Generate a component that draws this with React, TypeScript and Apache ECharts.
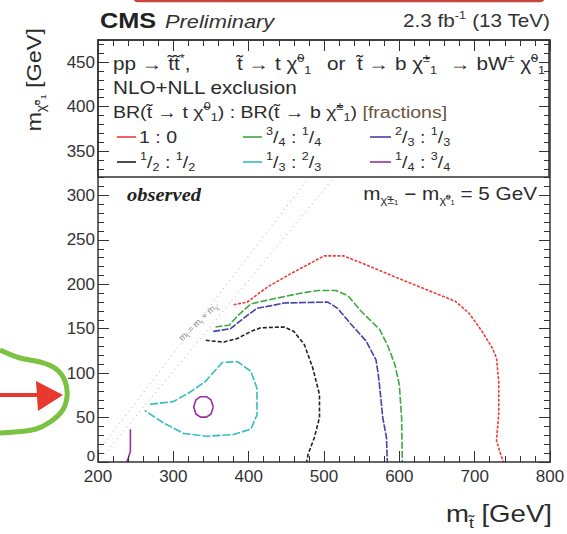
import React, { useEffect, useRef } from "react";
import * as echarts from "echarts";

// Exclusion contours, points are [m_stop, m_LSP] in GeV
const contour1to0: number[][] = [
  [380, 177], [398, 180], [425, 197], [456, 212], [478, 222], [500, 232], [526, 232],
  [550, 224], [598, 207], [642, 192], [674, 181], [692, 168], [709, 148], [723, 129],
  [729, 117], [732, 90], [732, 55], [729, 24], [734, 10], [738, 0],
];
const contour3to1: number[][] = [
  [356, 152], [374, 154], [386, 165], [403, 178], [429, 183], [469, 190], [492, 193],
  [516, 193], [532, 187], [549, 170], [574, 149], [585, 130], [594, 110], [600, 87],
  [603, 50], [604, 0],
];
const contour2to1: number[][] = [
  [353, 147], [376, 150], [392, 161], [411, 173], [430, 176], [447, 179], [505, 180],
  [518, 173], [536, 155], [556, 136], [569, 115], [572, 99], [574, 84], [578, 50],
  [583, 27], [584, 0],
];
const contour1to1: number[][] = [
  [343, 137], [354, 136], [367, 135], [385, 139], [403, 147], [416, 151], [447, 152],
  [460, 147], [474, 132], [485, 106], [494, 76], [494, 50], [487, 27], [479, 9], [477, 0],
];
const contour1to2: number[][] = [
  [269, 65], [300, 68], [323, 79], [343, 91], [365, 112], [385, 113], [403, 102],
  [411, 83], [411, 53], [403, 37], [380, 31], [345, 29], [314, 32], [287, 44], [262, 58],
];
const contour1to3Ring: number[][] = [
  [353, 62], [350, 70], [344, 73.5], [336, 73.5], [330, 70], [327, 62], [330, 54],
  [336, 50.5], [344, 50.5], [350, 54], [353, 62],
];
const contour1to3Edge: number[][] = [[243, 37], [243, 12], [240, 4], [238, 0]];

// kinematic diagonals
const diagTop: number[][] = [[200, 12], [480, 320]];
const diagLow: number[][] = [[200, 0], [513, 320]];

// axes
const xMin = 200;
const xMax = 800;
const xStep = 100;
const yMin = 0;
const yMax = 475;
const yStep = 50;

const COLORS = {
  red: "#ee3b3b",
  green: "#3fa83f",
  blue: "#4343a8",
  black: "#222222",
  cyan: "#35bdbd",
  magenta: "#9b2f9f",
};

const SANS = "'Liberation Sans', Arial, Helvetica, sans-serif";
const SERIF = "'Liberation Serif', 'Times New Roman', serif";
const TXT = "#2b2b2b";

function richFor(size: number, fill: string) {
  const s = Math.round(size * 0.62);
  return {
    sb: { fontSize: s, verticalAlign: "bottom", lineHeight: Math.round(size * 0.72), fontFamily: SANS, fill },
    sp: { fontSize: s, verticalAlign: "top", lineHeight: Math.round(size * 0.72), fontFamily: SANS, fill },
    br: { fontSize: size, fontFamily: SANS, fill: "#6b5540" },
  };
}

function txt(x: number, y: number, text: string, o: any = {}) {
  const size = o.size ?? 18;
  const fill = o.fill ?? TXT;
  return {
    type: "text",
    x,
    y,
    scaleX: o.sx ?? 1.15,
    scaleY: o.sy ?? 1,
    rotation: o.rot ?? 0,
    z: o.z ?? 12,
    silent: true,
    style: {
      text,
      fill,
      fontSize: size,
      fontFamily: o.family ?? SANS,
      fontWeight: o.weight ?? "normal",
      fontStyle: o.fstyle ?? "normal",
      textAlign: o.align ?? "left",
      textVerticalAlign: "middle",
      lineHeight: Math.round(size * 1.3),
      rich: richFor(size, fill),
    },
  };
}

function legLine(x1: number, x2: number, y: number, color: string) {
  return {
    type: "line",
    z: 12,
    silent: true,
    shape: { x1, y1: y, x2, y2: y },
    style: { stroke: color, lineWidth: 1.6 },
  };
}

const T = "t\u0303";
const CHI = "\u03c7\u0303";

export default function App() {
  const ref = useRef<HTMLDivElement>(null);

  useEffect(() => {
    if (!ref.current) return;
    const chart = echarts.init(ref.current, null, { renderer: "svg" });

    const axisBase = {
      type: "value",
      z: 20,
      axisLine: { show: true, onZero: false, lineStyle: { color: "#333", width: 1.5 } },
      axisTick: { show: true, inside: true, length: 11, lineStyle: { color: "#333", width: 1 } },
      minorTick: { show: true, splitNumber: 5, length: 6, lineStyle: { color: "#333", width: 1 } },
      splitLine: { show: false },
      minorSplitLine: { show: false },
    };

    const line = (name: string, data: number[][], color: string, dash: any, width = 1.6) => ({
      type: "line",
      name,
      data,
      showSymbol: false,
      symbol: "none",
      silent: true,
      z: 3,
      lineStyle: { color, width, type: dash },
    });

    const graphic: any[] = [
      // legend box
      {
        type: "rect",
        z: 10,
        silent: true,
        shape: { x: 98, y: 40, width: 451, height: 137 },
        style: { fill: "#ffffff", stroke: "#333", lineWidth: 1.5 },
      },
      // header
      txt(100, 21, "CMS", { size: 22, weight: "bold", fill: "#222" }),
      txt(165, 21, "Preliminary", { size: 19, fstyle: "italic", fill: "#333" }),
      txt(550, 21, "2.3 fb{sp|-1} (13 TeV)", { size: 18, align: "right", fill: "#333" }),
      // legend header lines
      txt(113, 64, `pp \u2192 ${T}${T}{sp|*},`, { size: 18 }),
      txt(237, 64, `${T} \u2192 t ${CHI}{sp|0}{sb|1}`, { size: 18 }),
      txt(327, 64, "or", { size: 18 }),
      txt(357, 64, `${T} \u2192 b ${CHI}{sp|\u00b1}{sb|1}`, { size: 18 }),
      txt(450, 64, `\u2192 bW{sp|\u00b1} ${CHI}{sp|0}{sb|1}`, { size: 18 }),
      txt(113, 88, "NLO+NLL exclusion", { size: 18 }),
      txt(
        113,
        112,
        `BR(${T} \u2192 t ${CHI}{sp|0}{sb|1}) : BR(${T} \u2192 b ${CHI}{sp|\u00b1}{sb|1}) {br|[fractions]}`,
        { size: 17 }
      ),
      // legend entries
      legLine(117, 136, 137, COLORS.red),
      txt(139, 137, "1 : 0", { size: 17 }),
      legLine(243, 262, 137, COLORS.green),
      txt(266, 137, "{sp|3}/{sb|4} : {sp|1}/{sb|4}", { size: 17 }),
      legLine(370, 391, 137, COLORS.blue),
      txt(395, 137, "{sp|2}/{sb|3} : {sp|1}/{sb|3}", { size: 17 }),
      legLine(117, 136, 162, COLORS.black),
      txt(140, 162, "{sp|1}/{sb|2} : {sp|1}/{sb|2}", { size: 17 }),
      legLine(243, 262, 162, COLORS.cyan),
      txt(266, 162, "{sp|1}/{sb|3} : {sp|2}/{sb|3}", { size: 17 }),
      legLine(370, 391, 162, COLORS.magenta),
      txt(395, 162, "{sp|1}/{sb|4} : {sp|3}/{sb|4}", { size: 17 }),
      // in-plot labels
      txt(127, 194, "observed", { size: 19, family: SERIF, weight: "bold", fstyle: "italic", sx: 1.08, fill: "#222" }),
      txt(537, 194, `m{sb|${CHI}\u00b1\u2081} \u2212 m{sb|${CHI}\u2070\u2081} = 5 GeV`, { size: 18, align: "right" }),
      txt(198, 322, `m{sb|${T}} = m{sb|t} + m{sb|${CHI}}`, {
        size: 9,
        sx: 1,
        align: "center",
        rot: (44 * Math.PI) / 180,
        fill: "#888",
        z: 4,
      }),
      // axis titles
      txt(552, 514, `m{sb|${T}} [GeV]`, { size: 24, sx: 1.15, align: "right" }),
      txt(34, 28, `m{sb|${CHI}\u2070\u2081} [GeV]`, {
        size: 23,
        sx: 1.02,
        sy: 0.85,
        align: "right",
        rot: Math.PI / 2,
      }),
      // hand-drawn annotations
      {
        type: "rect",
        z: 30,
        silent: true,
        shape: { x: 134, y: -40, width: 410, height: 41, r: 4 },
        style: { fill: "none", stroke: "#c4453d", lineWidth: 2.5 },
      },
      {
        type: "polyline",
        z: 30,
        silent: true,
        shape: {
          points: [
            [0, 350], [20, 358], [40, 362], [56, 369], [65, 381], [67, 397],
            [62, 411], [50, 422], [36, 429], [15, 432], [0, 433],
          ],
          smooth: 0.4,
        },
        style: { fill: "none", stroke: "#7cc242", lineWidth: 5 },
      },
      {
        type: "line",
        z: 30,
        silent: true,
        shape: { x1: 0, y1: 395, x2: 42, y2: 395 },
        style: { stroke: "#e8392e", lineWidth: 4 },
      },
      {
        type: "polygon",
        z: 30,
        silent: true,
        shape: { points: [[36, 381], [63, 395], [38, 411]] },
        style: { fill: "#e8392e" },
      },
    ];

    chart.setOption({
      animation: false,
      backgroundColor: "#ffffff",
      grid: { left: 98, right: 17, top: 40, bottom: 72, containLabel: false, outerBoundsMode: "none" },
      xAxis: [
        {
          ...axisBase,
          position: "bottom",
          min: xMin,
          max: xMax,
          interval: xStep,
          axisLabel: { color: "#333", fontSize: 17, fontFamily: SANS, margin: 6 },
        },
        {
          ...axisBase,
          position: "top",
          min: xMin,
          max: xMax,
          interval: xStep,
          axisLabel: { show: false },
        },
      ],
      yAxis: [
        {
          ...axisBase,
          position: "left",
          min: yMin,
          max: yMax,
          interval: yStep,
          axisLabel: {
            color: "#333",
            fontSize: 17,
            fontFamily: SANS,
            margin: 3,
            showMaxLabel: false,
            formatter: (v: number) =>
              v === yMin ? "{lift|0}" : v % yStep === 0 ? String(v) : "",
            rich: {
              lift: { fontSize: 15, fontFamily: SANS, color: "#333", padding: [0, 0, 14, 0] },
            },
          },
        },
        {
          ...axisBase,
          position: "right",
          min: yMin,
          max: yMax,
          interval: yStep,
          axisLabel: { show: false },
        },
      ],
      series: [
        { ...line("diagTop", diagTop, "#a8a8a8", [1, 4], 1), z: 2 },
        { ...line("diagLow", diagLow, "#a8a8a8", [1, 4], 1), z: 2 },
        line("1 : 0", contour1to0, COLORS.red, [3, 1.5]),
        line("3/4 : 1/4", contour3to1, COLORS.green, [7, 2]),
        line("2/3 : 1/3", contour2to1, COLORS.blue, [7, 1.5]),
        line("1/2 : 1/2", contour1to1, COLORS.black, [4, 2]),
        line("1/3 : 2/3", contour1to2, COLORS.cyan, [8, 2]),
        line("1/4 : 3/4", contour1to3Ring, COLORS.magenta, "solid"),
        line("1/4 : 3/4 edge", contour1to3Edge, COLORS.magenta, "solid"),
      ],
      graphic,
    });

    return () => chart.dispose();
  }, []);

  return (
    <div
      ref={ref}
      style={{ position: "absolute", left: 0, top: 0, width: 567, height: 534, background: "#fff" }}
    />
  );
}
